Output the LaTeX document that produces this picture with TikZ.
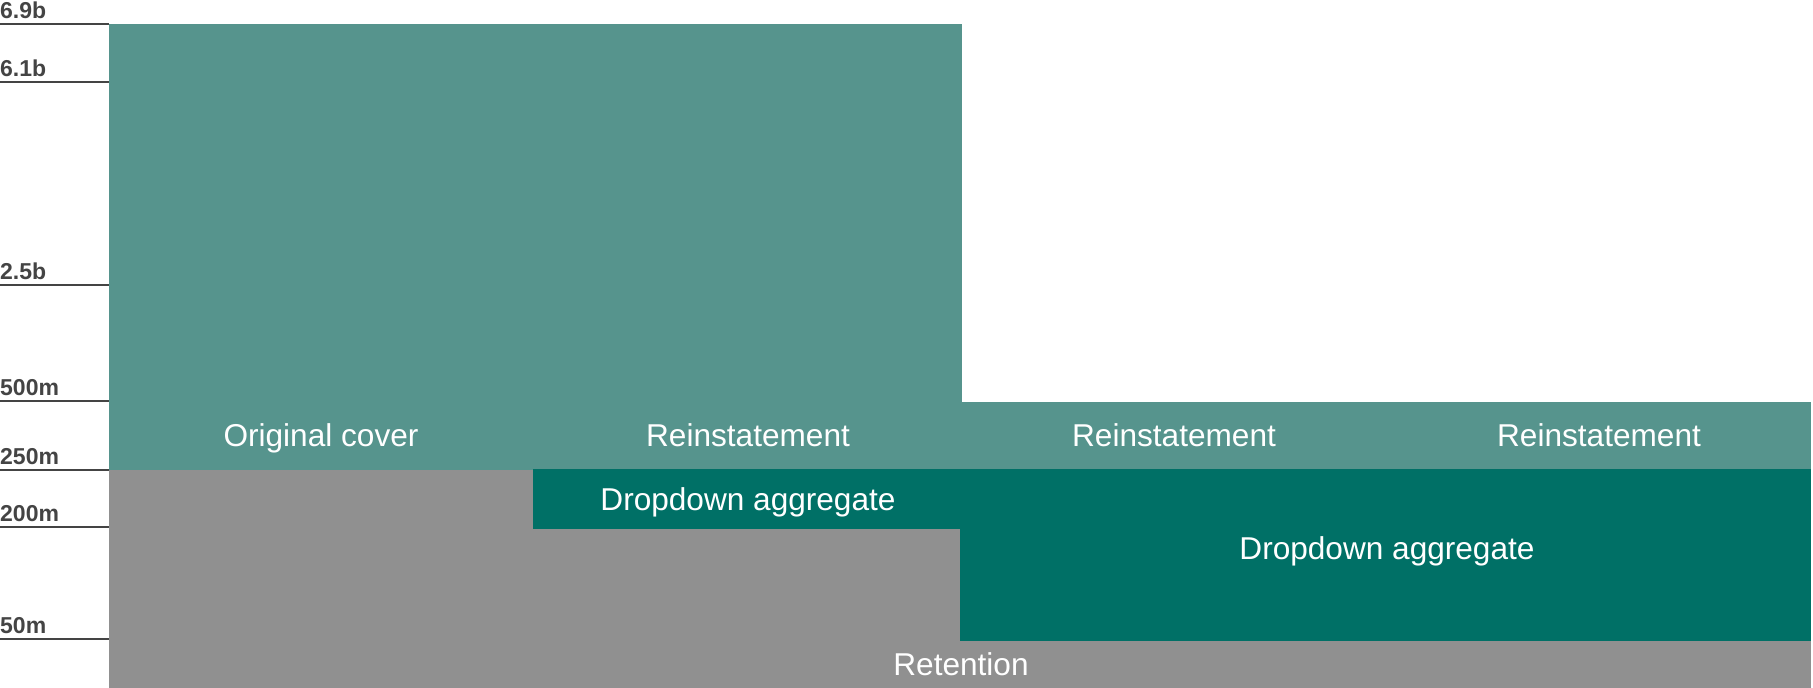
\documentclass[tikz,border=0pt]{standalone}
\usepackage{fontspec}
\setmainfont{Liberation Sans}
\definecolor{lteal}{RGB}{86,148,141}
\definecolor{dteal}{RGB}{0,112,102}
\definecolor{ret}{RGB}{144,144,144}
\definecolor{axis}{RGB}{68,68,68}
\tikzset{
  blocklabel/.style={text=white, anchor=base, inner sep=0pt, font=\fontsize{31.6}{38}\selectfont},
  ticklabel/.style={text=axis, anchor=base west, inner sep=0pt, font=\bfseries\fontsize{23}{27}\selectfont},
  tickline/.style={draw=axis, line width=2pt},
}
\begin{document}
\begin{tikzpicture}[x=1pt,y=-1pt]
\useasboundingbox (0,0) rectangle (1813,688);
% bars
\fill[ret]   (109,470) rectangle (1811,688);
\fill[lteal] (109,24) rectangle (962,470);
\fill[lteal] (962,402) rectangle (1811,470);
\fill[dteal] (533,469) rectangle (961,529);
\fill[dteal] (960,469) rectangle (1811,641);
% axis ticks
\foreach \yy/\lab in {24/6.9b, 82/6.1b, 285/2.5b, 401/500m, 470/250m, 527/200m, 639/50m}{
  \draw[tickline] (0,\yy) -- (109,\yy);
  \node[ticklabel] at (0,\yy-6) {\lab};
}
% labels
\node[blocklabel] (oc) at (321,446) {Original cover};
\node[blocklabel] (r1) at (748,446) {Reinstatement};
\node[blocklabel] (r2) at (1174,446) {Reinstatement};
\node[blocklabel] (r3) at (1599,446) {Reinstatement};
\node[blocklabel] (d1) at (748,510) {Dropdown aggregate};
\node[blocklabel] (d2) at (1387,559) {Dropdown aggregate};
\node[blocklabel] (rt) at (961,675) {Retention};
\end{tikzpicture}
\end{document}
